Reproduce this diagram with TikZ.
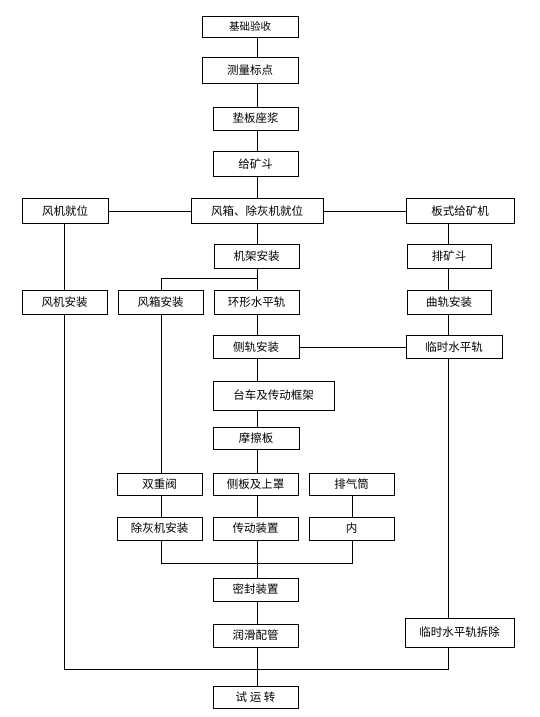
\documentclass[tikz,border=0pt]{standalone}
\usepackage{fontspec}
\newfontfamily\cjk{Noto Sans CJK SC}
\usepackage{tikz}

\begin{document}
\begin{tikzpicture}[
  x=1pt, y=-1pt,
  stepbox/.style={
    draw,
    line width=0.8pt,
    align=center,
    inner sep=0pt,
    minimum width=85pt,
    minimum height=23pt,
    font=\cjk\fontsize{11.5}{13}\selectfont
  },
  link/.style={line width=0.8pt}
]
\useasboundingbox (0,0) rectangle (540,717);

\node[stepbox, minimum width=96pt, minimum height=21pt, font=\cjk\fontsize{10.5}{12}\selectfont] (jcys) at (250,26.5) {基础验收};
\node[stepbox, minimum width=96pt, minimum height=26pt] (clbd) at (250,70) {测量标点};
\node[stepbox] (dbzj) at (255.5,118.5) {垫板座浆};
\node[stepbox, minimum height=25pt] (gkd) at (255.5,164) {给矿斗};

\node[stepbox, minimum width=86pt, minimum height=25pt] (fjjw) at (65,211) {风机就位};
\node[stepbox, minimum width=132pt, minimum height=25pt] (fxjw) at (257,211) {风箱、除灰机就位};
\node[stepbox, minimum width=108pt, minimum height=25pt] (bsgkj) at (460,211) {板式给矿机};

\node[stepbox, minimum height=24pt] (jjaz) at (256.5,256) {机架安装};
\node[stepbox, minimum width=84pt, minimum height=24pt] (pkd) at (449,256) {排矿斗};

\node[stepbox, minimum height=24pt] (fjaz) at (64.5,302) {风机安装};
\node[stepbox, minimum height=24pt] (fxaz) at (160.5,302) {风箱安装};
\node[stepbox, minimum height=24pt] (hxspg) at (256.5,302) {环形水平轨};
\node[stepbox, minimum width=84pt, minimum height=24pt] (qgaz) at (449,302) {曲轨安装};

\node[stepbox, minimum width=86pt] (cgaz) at (256,347) {侧轨安装};
\node[stepbox, minimum width=96pt] (lsspg) at (454,347) {临时水平轨};

\node[stepbox, minimum width=121pt, minimum height=29pt] (tcjc) at (273.5,395.5) {台车及传动框架};
\node[stepbox, minimum width=86pt, minimum height=22pt] (mcb) at (256,438) {摩擦板};

\node[stepbox, minimum height=22pt] (szf) at (159.5,484) {双重阀};
\node[stepbox, minimum height=22pt] (cbsz) at (255.5,484) {侧板及上罩};
\node[stepbox, minimum height=22pt] (pqt) at (351.5,484) {排气筒};

\node[stepbox] (chjaz) at (159.5,528.5) {除灰机安装};
\node[stepbox] (cdzz) at (255.5,528.5) {传动装置};
\node[stepbox] (nei) at (351.5,528.5) {内};

\node[stepbox] (mfzz) at (255.5,589.5) {密封装置};
\node[stepbox] (rhpg) at (255.5,635.5) {润滑配管};
\node[stepbox, minimum width=109pt, minimum height=29pt] (lschc) at (459.5,632.5) {临时水平轨拆除};

\node[stepbox, minimum height=22pt] (syz) at (255.5,697) {试\ 运\ 转};

\coordinate (cx) at (257,0);
\coordinate (lx) at (64,0);
\coordinate (bx) at (161,0);
\coordinate (px) at (352,0);
\coordinate (rx) at (448,0);
\coordinate (jnt) at (257,278);
\coordinate (lowbar) at (0,563);
\coordinate (endbar) at (0,669);

\foreach \a/\b in {jcys/clbd, clbd/dbzj, dbzj/gkd, gkd/fxjw, fxjw/jjaz, jjaz/hxspg,
  hxspg/cgaz, cgaz/tcjc, tcjc/mcb, mcb/cbsz, cbsz/cdzz, cdzz/mfzz, mfzz/rhpg, rhpg/syz}
  \draw[link] (\a.south -| cx) -- (\b.north -| cx);

\draw[link] (fjjw) -- (fxjw);
\draw[link] (fxjw) -- (bsgkj);
\draw[link] (cgaz) -- (lsspg);

\foreach \a/\b in {bsgkj/pkd, pkd/qgaz, qgaz/lsspg, lsspg/lschc}
  \draw[link] (\a.south -| rx) -- (\b.north -| rx);

\draw[link] (fjjw.south -| lx) -- (fjaz.north -| lx);
\draw[link] (fjaz.south -| lx) |- (endbar -| rx) -- (lschc.south -| rx);

\draw[link] (jnt) -| (fxaz.north -| bx);
\draw[link] (fxaz.south -| bx) -- (szf.north -| bx);
\draw[link] (szf.south -| bx) -- (chjaz.north -| bx);
\draw[link] (pqt.south -| px) -- (nei.north -| px);
\draw[link] (chjaz.south -| bx) |- (lowbar -| px) -- (nei.south -| px);
\end{tikzpicture}
\end{document}
